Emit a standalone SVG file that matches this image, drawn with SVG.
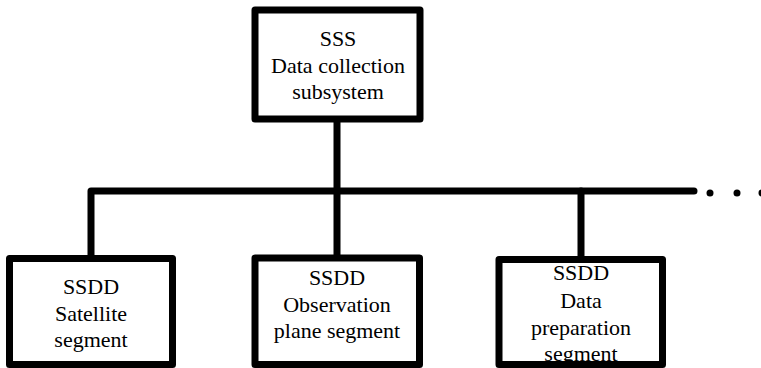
<svg xmlns="http://www.w3.org/2000/svg" width="761" height="368" viewBox="0 0 761 368">
<style>
.box{fill:#fff;stroke:#000;stroke-width:7;stroke-linejoin:round}
.wire{fill:none;stroke:#000;stroke-width:7;stroke-linejoin:round;stroke-linecap:round}
text{font-family:"Liberation Serif","Times New Roman",serif;font-size:22px;fill:#000;text-anchor:middle}
</style>
<rect width="761" height="368" fill="#fff"/>
<g id="connectors">
<path class="wire" d="M91,258 V191 H694"/>
<path class="wire" d="M337,119 V258"/>
<path class="wire" d="M581,191 V259"/>
<circle cx="710" cy="193" r="3.5"/>
<circle cx="737" cy="193" r="3.5"/>
<circle cx="762" cy="193" r="3.5"/>
</g>
<g id="sss">
<rect class="box" x="255" y="10" width="165" height="109"/>
<text x="338" y="46">SSS</text>
<text x="338" y="72.5">Data collection</text>
<text x="338" y="99">subsystem</text>
</g>
<g id="satellite">
<rect class="box" x="9.5" y="258.5" width="163" height="106"/>
<text x="91" y="294">SSDD</text>
<text x="91" y="321">Satellite</text>
<text x="91" y="347">segment</text>
</g>
<g id="observation">
<rect class="box" x="255" y="258" width="164.5" height="106.5"/>
<text x="337" y="285">SSDD</text>
<text x="337" y="312">Observation</text>
<text x="337" y="338">plane segment</text>
</g>
<g id="preparation">
<rect class="box" x="499" y="259.5" width="163.5" height="105"/>
<text x="581" y="280">SSDD</text>
<text x="581" y="308">Data</text>
<text x="581" y="335">preparation</text>
<text x="581" y="361">segment</text>
</g>
</svg>
